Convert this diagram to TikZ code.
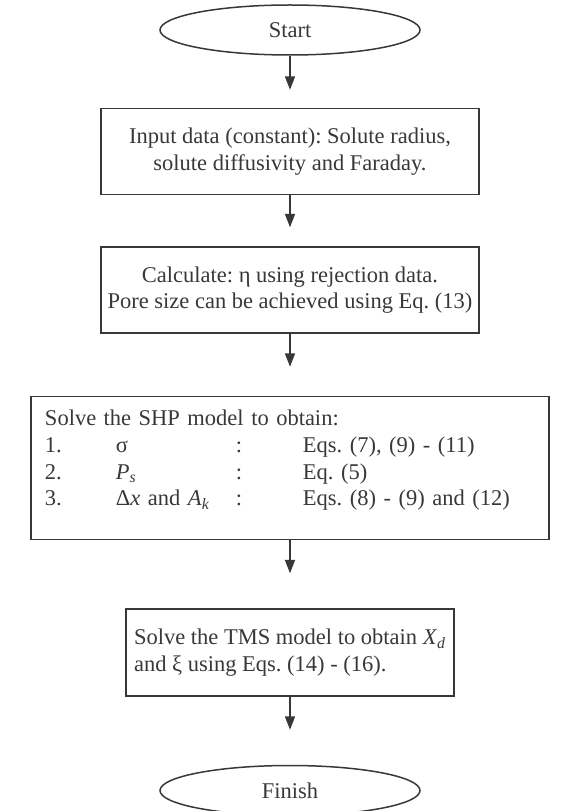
\documentclass[tikz,border=0pt]{standalone}
\usepackage{fontspec}
\setmainfont{Liberation Serif}
\usepackage{tikz}
\usetikzlibrary{positioning,arrows.meta,shapes.geometric}
\definecolor{scangray}{gray}{0.22}
\setlength{\tabcolsep}{0pt}
\frenchspacing

\begin{document}
\begin{tikzpicture}[>={Triangle[length=8pt,width=6pt]},color=scangray,line width=0.9pt,
  every node/.style={font=\fontsize{13.5}{16}\selectfont},
  terminal/.style={draw, ellipse, minimum width=156pt, minimum height=30pt, inner sep=0pt},
  box/.style={draw, rectangle, minimum width=226.8pt, minimum height=51.6pt, align=center, inner sep=3pt}]

\useasboundingbox (-174pt,18pt) rectangle (168pt,-468.6pt);

% Nodes of the flow
\node[terminal] (start) {Start};
\node[box, below=31.2pt of start] (input) {Input data (constant): Solute radius,\\solute diffusivity and Faraday.};
\node[box, below=30.6pt of input] (calc) {Calculate: η using rejection data.\\Pore size can be achieved using Eq. (13)};
\node[box, below=37.2pt of calc, minimum height=85.8pt, text width=294pt, inner xsep=8.4pt, align=left] (shp)
  {Solve the SHP model to obtain:\\
   \begin{tabular}[t]{@{}p{42.6pt}p{72pt}p{40.2pt}l@{}}
   1. & σ & : & Eqs. (7), (9) - (11)\\
   2. & \textit{P}\textsubscript{\textit{s}} & : & Eq. (5)\\
   3. & Δ\textit{x} and \textit{A}\textsubscript{\textit{k}} & : & Eqs. (8) - (9) and (12)\rule[-12pt]{0pt}{12pt}
   \end{tabular}};
\node[box, below=40.8pt of shp, minimum width=196.8pt, minimum height=52.2pt, align=left] (tms)
  {Solve the TMS model to obtain \textit{X}\textsubscript{\textit{d}}\\and ξ using Eqs. (14) - (16).};
\node[terminal, below=40.8pt of tms] (finish) {Finish};

% Arrows
\draw[->, shorten >=10.8pt] (start) -- (input);
\draw[->, shorten >=11.4pt] (input) -- (calc);
\draw[->, shorten >=17.4pt] (calc) -- (shp);
\draw[->, shorten >=21pt] (shp) -- (tms);
\draw[->, shorten >=21pt] (tms) -- (finish);

\end{tikzpicture}
\end{document}
